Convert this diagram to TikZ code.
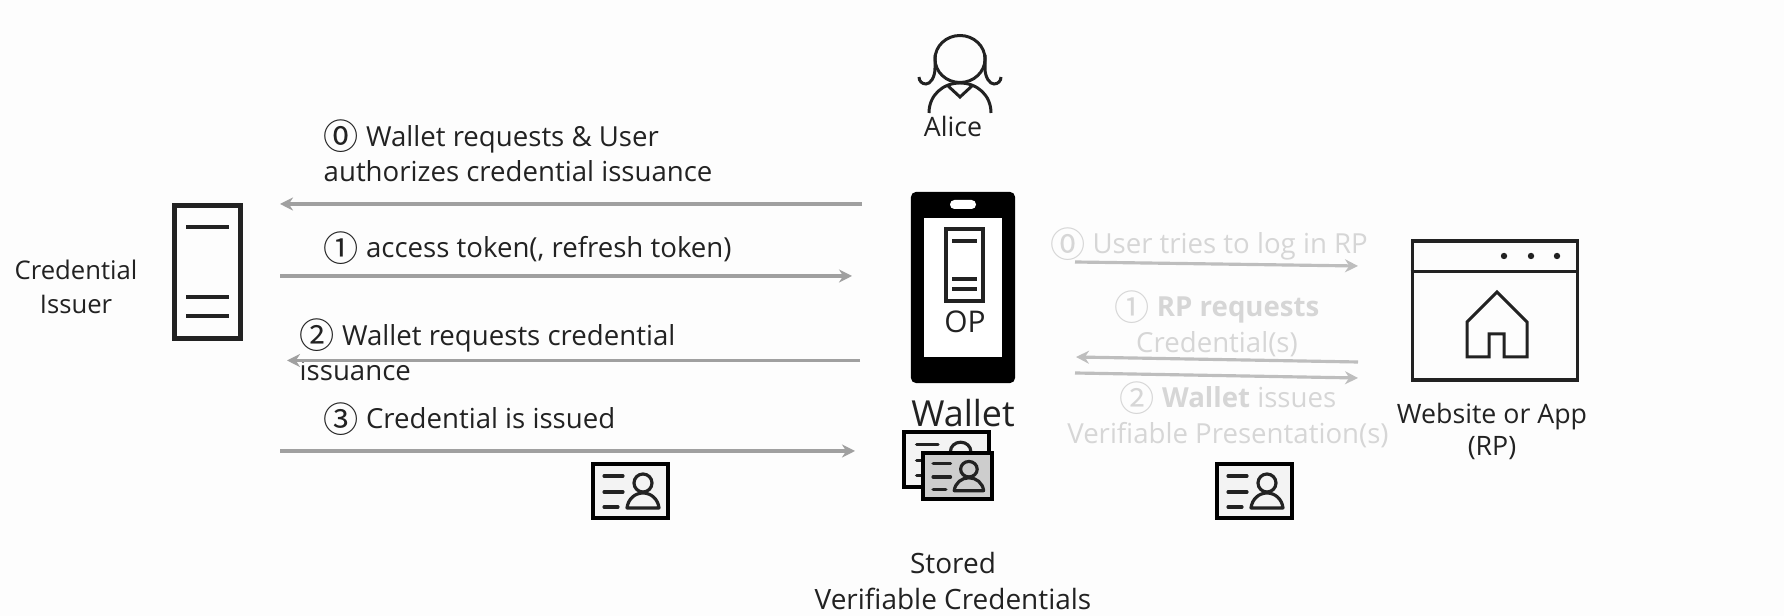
\documentclass[tikz,border=0pt]{standalone}
\usepackage{fontspec}
\setmainfont{Open Sans}
\newfontfamily\circfont{Noto Sans CJK JP}
\usetikzlibrary{arrows.meta}
\definecolor{paper}{RGB}{253,253,253}
\definecolor{inkgray}{RGB}{34,34,34}
\definecolor{arrowgray}{RGB}{160,160,160}
\definecolor{fadearrow}{RGB}{190,190,190}
\definecolor{fadetext}{RGB}{214,214,214}
\definecolor{cardlight}{RGB}{243,243,243}
\definecolor{cardshade}{RGB}{205,205,205}
\newcommand{\drawarrow}{\draw[-{Stealth[length=1.3mm,width=1.3mm]}, arrowgray, line width=0.9pt]}
\newcommand{\drawfaded}{\draw[-{Stealth[length=1.3mm,width=1.3mm]}, fadearrow, line width=0.9pt]}
\newcommand{\cn}[1]{\raisebox{-1pt}{\circfont\fontsize{10pt}{10pt}\selectfont #1}}
% card icon: corner, x scale, y scale, fill
\newcommand{\drawcard}[4]{
    \begin{scope}[shift={(#1)},xscale=#2,yscale=#3]
        \draw[line width=1.05pt, draw=black, fill=#4] (1,1) rectangle (76,55);
        \draw[line width=0.9pt, inkgray, line cap=round] (12,13) -- (31,13);
        \draw[line width=0.9pt, inkgray, line cap=round] (12,29) -- (31,29);
        \draw[line width=0.9pt, inkgray, line cap=round] (12,44) -- (26,44);
        \draw[line width=0.9pt, inkgray] (51,20) circle (9);
        \draw[line width=0.9pt, inkgray, line join=round] (35,45) .. controls (36,36) and (43,30) .. (51,30) .. controls (59,30) and (66,36) .. (67,45) -- cycle;
    \end{scope}
}
\tikzset{
    label/.style={anchor=west, inner sep=0, align=left, text=inkgray, font=\fontsize{7.85pt}{10.2pt}\selectfont},
    faded/.style={anchor=center, inner sep=0, align=center, text=fadetext, font=\fontsize{7.85pt}{10.2pt}\selectfont},
    caption/.style={anchor=center, inner sep=0, align=center, text=inkgray, font=\fontsize{7.6pt}{9.6pt}\selectfont},
    icon/.style={line width=0.85pt, inkgray},
    bar/.style={line width=1.4pt, inkgray}
}
\begin{document}
\begin{tikzpicture}[x=0.01cm,y=-0.01cm]
    \fill[paper] (0,0) rectangle (1784,616);
    \useasboundingbox (0,0) rectangle (1784,616);

    % Alice
    \draw[icon] (960,59) ellipse (25 and 23.5);
    \draw[icon] (935,55) -- (935,68) .. controls (935,78) and (930,84) .. (926,84) .. controls (922,84) and (919,81) .. (919,77);
    \draw[icon] (985,55) -- (985,68) .. controls (985,78) and (990,84) .. (994,84) .. controls (998,84) and (1001,81) .. (1001,77);
    \draw[icon] (929,113) .. controls (929,95) and (943,83) .. (960,83) .. controls (977,83) and (991,95) .. (991,113);
    \draw[icon] (947,85) -- (960,97) -- (973,85);
    \node[caption] (alice) at (953,126) {Alice};

    % Issuer
    \node[draw=inkgray, line width=1.3pt, minimum width=0.665cm, minimum height=1.33cm] (issuer) at (207.5,272) {};
    \draw[bar] (186,227) -- (229,227);
    \draw[bar] (186,297) -- (229,297);
    \draw[bar] (186,316) -- (229,316);
    \node[caption, font=\fontsize{7.3pt}{9.6pt}\selectfont] (issuername) at (76,287) {Credential\\Issuer};

    % Phone
    \node[fill=black, rounded corners=0.05cm, minimum width=1.04cm, minimum height=1.91cm] (phone) at (963,287.5) {};
    \node[fill=white, minimum width=0.78cm, minimum height=1.39cm] (screen) at (963,287.5) {};
    \fill[white, rounded corners=0.044cm] (950,200) rectangle (976,209);
    \node[draw=inkgray, line width=1.2pt, minimum width=0.37cm, minimum height=0.72cm] (opbox) at (964.5,265) {};
    \draw[bar] (952,241) -- (977,241);
    \draw[bar] (952,279) -- (977,279);
    \draw[bar] (952,289) -- (977,289);
    \node[caption, font=\fontsize{8.5pt}{10pt}\selectfont] (op) at (965,322) {OP};
    \node[caption, font=\fontsize{10.2pt}{11pt}\selectfont] (wallet) at (963,413) {Wallet};

    % Cards
    \drawcard{903,431}{1.13}{1.02}{cardlight}
    \drawcard{922,452}{0.92}{0.86}{cardshade}
    \drawcard{592,463}{1}{1}{cardlight}
    \drawcard{1216,463}{1}{1}{cardlight}
    \node[caption, font=\fontsize{7.95pt}{10pt}\selectfont] (stored) at (953,581) {Stored\\Verifiable Credentials};

    % Website
    \node[draw=inkgray, line width=1pt, minimum width=1.65cm, minimum height=1.39cm] (site) at (1495,310.5) {};
    \draw[icon] (site.west |- 0,272) -- (site.east |- 0,272);
    \foreach \x in {1504,1531,1557} {
        \fill[inkgray] (\x,256) circle (3.2);
    }
    \draw[icon] (1467,357) -- (1467,322) -- (1497,292) -- (1527,322) -- (1527,357) -- (1504,357) -- (1504,334) -- (1489,334) -- (1489,357) -- cycle;
    \node[caption, font=\fontsize{7.6pt}{9.1pt}\selectfont] (sitename) at (1492,431) {Website or App\\(RP)};

    % Left side
    \coordinate (reqa) at (862,204);
    \coordinate (reqb) at (280,204);
    \coordinate (toka) at (280,276);
    \coordinate (tokb) at (852,276);
    \coordinate (creda) at (860,360.5);
    \coordinate (credb) at (287,360.5);
    \coordinate (issa) at (280,451);
    \coordinate (issb) at (855,451);

    \node[label] (stepzero) at (323,151) {\cn{⓪} Wallet requests \& User\\authorizes credential issuance};
    \node[label] (stepone) at (323,248) {\cn{①} access token(, refresh token)};
    \node[label] (steptwo) at (299,350) {\cn{②} Wallet requests credential\\issuance};
    \node[label] (stepthree) at (323,419) {\cn{③} Credential is issued};

    \drawarrow (reqa) -- (reqb);
    \drawarrow (toka) -- (tokb);
    \drawarrow (creda) -- (credb);
    \drawarrow (issa) -- (issb);

    % Right side
    \coordinate (loga) at (1075,262);
    \coordinate (logb) at (1358,266);
    \coordinate (rpa) at (1358,362);
    \coordinate (rpb) at (1076,357);
    \coordinate (vpa) at (1075,373);
    \coordinate (vpb) at (1358,378);

    \node[faded] (rpzero) at (1209,244) {\cn{⓪} User tries to log in RP};
    \node[faded] (rpone) at (1217,324) {\cn{①} \textbf{RP requests}\\Credential(s)};
    \node[faded] (rptwo) at (1228,415) {\cn{②} \textbf{Wallet} issues\\Verifiable Presentation(s)};

    \drawfaded (loga) -- (logb);
    \drawfaded (rpa) -- (rpb);
    \drawfaded (vpa) -- (vpb);
\end{tikzpicture}
\end{document}
